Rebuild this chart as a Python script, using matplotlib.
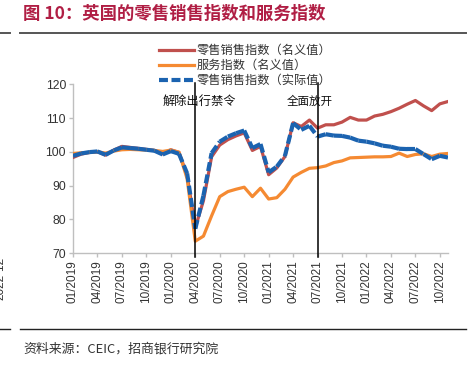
import matplotlib
matplotlib.use("Agg")
import matplotlib.pyplot as plt
from matplotlib.lines import Line2D

months = list(range(47))  # Jan 2019 .. Nov 2022
retail_nominal = [98.3, 99.3, 99.8, 100.0, 99.0, 100.5, 101.6, 101.3, 101.0, 100.7, 100.4, 99.4,
                  100.6, 99.8, 93.0, 77.5, 85.5, 98.5, 102.0, 103.6, 104.7, 105.6, 100.4, 101.6,
                  93.2, 95.2, 98.6, 108.6, 107.5, 109.4, 107.0, 108.0, 108.0, 108.8, 110.2, 109.4,
                  109.4, 110.6, 111.1, 111.9, 112.9, 114.1, 115.2, 113.6, 112.2, 114.2, 114.9]
services_nominal = [99.5, 99.7, 99.8, 100.0, 99.6, 100.2, 100.6, 100.7, 100.6, 100.5, 100.4, 100.1,
                    100.5, 99.9, 92.0, 73.5, 75.0, 81.0, 86.7, 88.2, 88.9, 89.5, 86.7, 89.2,
                    86.0, 86.4, 88.9, 92.5, 93.9, 95.1, 95.3, 95.8, 96.8, 97.3, 98.2, 98.3,
                    98.4, 98.5, 98.5, 98.6, 99.6, 98.6, 99.2, 99.4, 98.6, 99.3, 99.5]
retail_real = [98.8, 99.5, 99.9, 100.1, 99.1, 100.4, 101.3, 101.1, 100.9, 100.6, 100.3, 99.2,
               100.2, 99.4, 93.6, 77.2, 87.0, 99.6, 103.0, 104.5, 105.5, 106.3, 101.1, 102.3,
               93.9, 95.6, 98.8, 108.5, 106.5, 107.7, 104.5, 105.2, 104.8, 104.7, 104.2, 103.3,
               103.0, 102.5, 101.8, 101.5, 100.9, 100.8, 100.8, 99.3, 97.8, 98.8, 98.3]
tick_pos = list(range(0, 47, 3))
tick_labels = ["01/2019", "04/2019", "07/2019", "10/2019", "01/2020", "04/2020", "07/2020", "10/2020",
               "01/2021", "04/2021", "07/2021", "10/2021", "01/2022", "04/2022", "07/2022", "10/2022"]
series_names = ["零售销售指数（名义值）", "服务指数（名义值）", "零售销售指数（实际值）"]
events = [(15, "解除出行禁令"), (30, "全面放开")]

W, H = 471, 368
fig = plt.figure(figsize=(W / 100, H / 100), dpi=100)
cjk = ["Noto Sans CJK SC", "DejaVu Sans"]

def fx(px):
    return px / W

def fy(py):
    return 1 - py / H

ax = fig.add_axes([fx(73), fy(253), fx(448) - fx(73), fy(84.3) - fy(253)])

c_red = "#C0504D"
c_orange = "#F58A32"
c_blue = "#1B63B0"
dash = (0, (2.15, 0.85))
ax.plot(months, retail_nominal, color=c_red, lw=2.3, solid_joinstyle="round", zorder=3)
ax.plot(months, services_nominal, color=c_orange, lw=2.3, solid_joinstyle="round", zorder=3)
# dashed line drawn segment by segment (dash pattern restarts at each point, as in the source)
for i in range(len(months) - 1):
    ax.plot(months[i:i + 2], retail_real[i:i + 2], color=c_blue, lw=3.0, ls=dash, zorder=4)

ax.set_xlim(0, 46)
ax.set_ylim(70, 120)
ax.set_yticks([70, 80, 90, 100, 110, 120])
ax.set_xticks(tick_pos)
ax.set_xticklabels(tick_labels, rotation=90, family="Liberation Sans", fontsize=8.5, color="#333333")
for lab in ax.get_yticklabels():
    lab.set_family("Liberation Sans")
    lab.set_fontsize(8.8)
    lab.set_color("#333333")
for s in ["top", "right"]:
    ax.spines[s].set_visible(False)
for s in ["left", "bottom"]:
    ax.spines[s].set_color("#BFBFBF")
    ax.spines[s].set_linewidth(1.0)
ax.tick_params(axis="both", colors="#BFBFBF", length=3, width=1.0, labelcolor="#333333", pad=2)

for xi, label in events:
    ax.plot([xi, xi], [68.8, 120.4], color="black", lw=1.1, clip_on=False, zorder=5)

ax.text(11.0, 115.0, events[0][1], family=cjk, fontsize=8.8, color="#111111", va="center", ha="left")
ax.text(26.2, 115.0, events[1][1], family=cjk, fontsize=8.3, color="#111111", va="center", ha="left")

# legend
leg_rows = [(50, c_red, "-", 2.3), (65, c_orange, "-", 2.3), (80, c_blue, dash, 3.0)]
for (py, col, ls, lw), name in zip(leg_rows, series_names):
    fig.add_artist(Line2D([fx(159), fx(194)], [fy(py), fy(py)], color=col, ls=ls, lw=lw,
                          transform=fig.transFigure))
    fig.text(fx(197), fy(py), name, family=cjk, fontsize=8.8, color="#333333", va="center", ha="left")

# title and rules
fig.text(fx(23), fy(14), "图 10：英国的零售销售指数和服务指数", family=cjk, fontsize=12.5,
         fontweight="bold", color="#B01E44", va="center", ha="left")
for py, col, lw in [(33, "#555555", 1.4), (329, "#222222", 1.0)]:
    fig.add_artist(Line2D([0, fx(10)], [fy(py), fy(py)], color=col, lw=lw, transform=fig.transFigure))
    fig.add_artist(Line2D([fx(20), fx(466)], [fy(py), fy(py)], color=col, lw=lw, transform=fig.transFigure))

fig.text(fx(23), fy(349), "资料来源：CEIC，招商银行研究院", family=cjk, fontsize=9.3,
         color="#333333", va="center", ha="left")
fig.text(fx(0), fy(278), "2022-12", family="Liberation Sans", fontsize=8.5, rotation=90,
         color="#333333", va="center", ha="center")

fig.savefig("out.png", dpi=100)
